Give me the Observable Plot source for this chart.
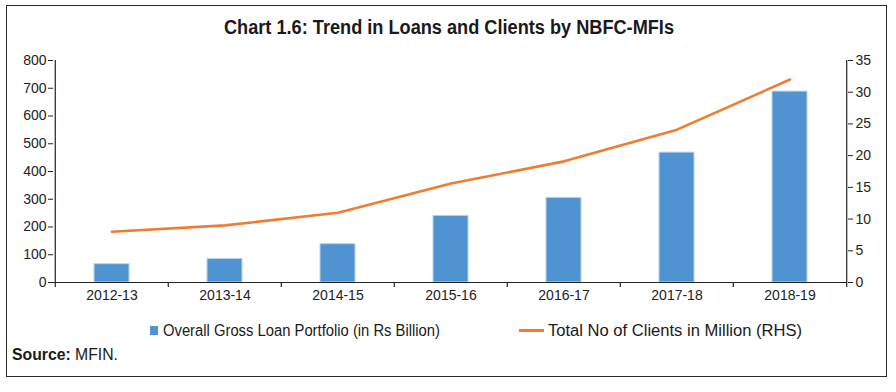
<!DOCTYPE html>
<html>
<head>
<meta charset="utf-8">
<script src="https://cdn.jsdelivr.net/npm/d3@7"></script>
<script src="https://cdn.jsdelivr.net/npm/@observablehq/plot@0.6"></script>
<style>
  body { margin: 0; background: #fff; }
  #wrap { position: relative; width: 896px; height: 392px; background: #fff; overflow: hidden; }
  #border { position: absolute; left: 6px; top: 5px; width: 879px; height: 370px; border: 1.5px solid #2a2a2a; }
  .fit { position: absolute; white-space: nowrap; transform-origin: 0 50%; font-family: "Liberation Sans", Arial, sans-serif; color: #1a1a1a; }
  #title { top: 16px; font-weight: bold; font-size: 20px; }
  #chart { position: absolute; left: 0; top: 45px; }
  .leg { top: 322px; font-size: 16px; }
  .sw { position: absolute; }
  #source { left: 12px; top: 346px; font-size: 16px; }
</style>
</head>
<body>
<div id="wrap">
  <div id="border"></div>
  <div id="title" class="fit" data-left="224" data-width="450">Chart 1.6: Trend in Loans and Clients by NBFC-MFIs</div>
  <div id="chart"></div>
  <div class="sw" style="left:150px;top:326px;width:8px;height:9px;background:#4f94d1;"></div>
  <div class="leg fit" data-left="163" data-width="277">Overall Gross Loan Portfolio (in Rs Billion)</div>
  <div class="sw" style="left:519px;top:329px;width:25px;height:3px;background:#ef7d31;"></div>
  <div class="leg fit" data-left="548" data-width="254">Total No of Clients in Million (RHS)</div>
  <div id="source" class="fit" data-left="12" data-width="106"><b>Source:</b> MFIN.</div>
</div>
<script>
const years = ["2012-13", "2013-14", "2014-15", "2015-16", "2016-17", "2017-18", "2018-19"];
const loans = [66, 85, 138, 240, 305, 468, 688];
const clients = [8.0, 9.0, 11.0, 15.6, 19.1, 24.1, 32.0];
const leftTicks = [0, 100, 200, 300, 400, 500, 600, 700, 800];
const rightTicks = [0, 5, 10, 15, 20, 25, 30, 35];

const data = years.map((year, i) => ({year, loans: loans[i], clients: clients[i]}));
const k = 800 / 35;

const W = 896, H = 262, ML = 53, MR = 49, MT = 15, MB = 25;
const step = (W - ML - MR) / years.length;
const tickLen = -800 * 5 / (H - MT - MB);
const ax = "#222";

const chart = Plot.plot({
  width: W,
  height: H,
  marginLeft: ML,
  marginRight: MR,
  marginTop: MT,
  marginBottom: MB,
  style: {fontFamily: "'Liberation Sans', Arial, sans-serif", fontSize: "14px", color: "#222", background: "transparent"},
  x: {type: "band", domain: years, padding: 0},
  y: {domain: [0, 800]},
  marks: [
    Plot.barY(data, {x: "year", y: "loans", fill: "#4f94d1", stroke: "#b9d4ee", strokeWidth: 1, insetLeft: 39, insetRight: 39}),
    Plot.lineY(data, {x: "year", y: d => d.clients * k, stroke: "#ef7d31", strokeWidth: 2.6, strokeLinejoin: "round"}),
    Plot.ruleY([0], {stroke: ax, strokeWidth: 1.2}),
    Plot.ruleX([years[0]], {x: d => d, y1: 0, y2: 800, dx: -step / 2, stroke: ax, strokeWidth: 1.2}),
    Plot.ruleX([years[years.length - 1]], {x: d => d, y1: 0, y2: 800, dx: step / 2, stroke: ax, strokeWidth: 1.2}),
    Plot.ruleX(years, {x: d => d, y1: 0, y2: tickLen, dx: -step / 2, stroke: ax, strokeWidth: 1.2}),
    Plot.ruleX([years[years.length - 1]], {x: d => d, y1: 0, y2: tickLen, dx: step / 2, stroke: ax, strokeWidth: 1.2}),
    Plot.axisX({tickSize: 0, tickPadding: 8, label: null, fontSize: 14}),
    Plot.axisY({anchor: "left", ticks: leftTicks, tickSize: 5, tickPadding: 2, label: null, fontSize: 14}),
    Plot.axisY({anchor: "right", ticks: rightTicks.map(v => v * k), tickFormat: d => Math.round(d / k), tickSize: 5, tickPadding: 3, label: null, fontSize: 14})
  ]
});
document.getElementById("chart").appendChild(chart);

document.querySelectorAll(".fit").forEach(el => {
  const target = +el.dataset.width;
  const w = el.getBoundingClientRect().width;
  el.style.left = el.dataset.left + "px";
  el.style.transform = `scaleX(${target / w})`;
});
</script>
</body>
</html>
